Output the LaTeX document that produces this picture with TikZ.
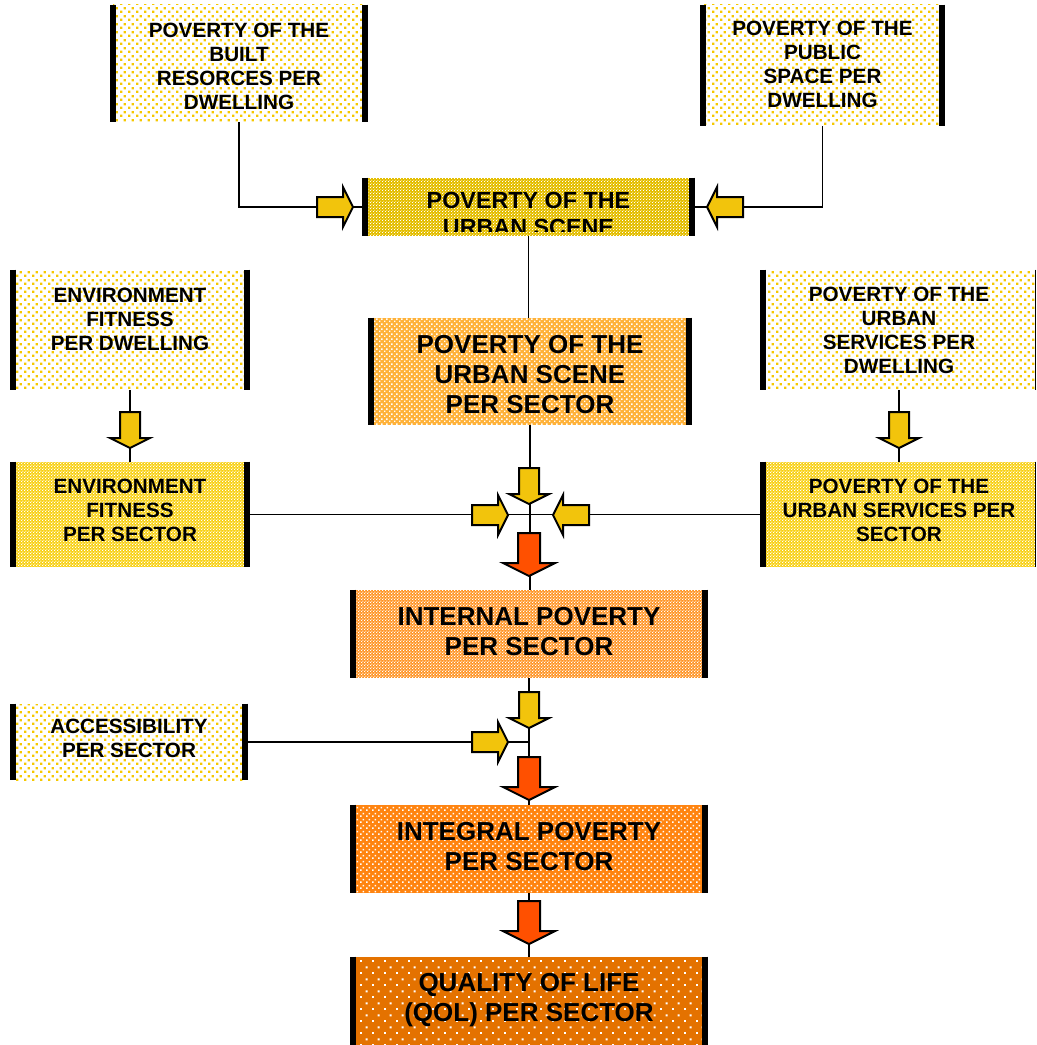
\documentclass[tikz,border=0pt]{standalone}
\usepackage{fontspec}
\setmainfont{Liberation Sans}
\usetikzlibrary{patterns}
\definecolor{dotyel}{HTML}{F6C800}
\definecolor{arryel}{HTML}{F2C40C}
\definecolor{arrred}{HTML}{FF5000}
\definecolor{scenefill}{HTML}{E4BE00}
\definecolor{sectfill}{HTML}{FFB23A}
\definecolor{envsect}{HTML}{F8D010}
\definecolor{intfill}{HTML}{FF9424}
\definecolor{integfill}{HTML}{FF8410}
\definecolor{qolfill}{HTML}{E47200}
\pgfdeclarepatternformonly[\dotsep,\dotsz]{sdots}{\pgfqpoint{0pt}{0pt}}{\pgfpoint{\dotsep}{\dotsep}}{\pgfpoint{\dotsep}{\dotsep}}{%
  \pgfpathrectangle{\pgfqpoint{0pt}{0pt}}{\pgfpoint{\dotsz}{\dotsz}}%
  \pgfpathrectangle{\pgfpoint{0.5*\dotsep}{0.5*\dotsep}}{\pgfpoint{\dotsz}{\dotsz}}%
  \pgfusepath{fill}}
\tikzset{
  dot sep/.store in=\dotsep, dot size/.store in=\dotsz, dot sep=6pt, dot size=1.5pt,
  box/.style n args={4}{inner sep=0pt, draw=none, preaction={fill=#1}, pattern=sdots,
     pattern color=#2, dot sep=#3, dot size=#4},
  lightbox/.style={box={white}{dotyel}{6pt}{1.9pt}},
  txt/.style={inner sep=0pt, align=center, text=black},
  smallfont/.style={txt, font=\fontsize{15.5}{18}\selectfont\bfseries},
  bigfont/.style={txt, font=\fontsize{19.5}{22.5}\selectfont\bfseries},
  bar/.style={line width=4.5pt, black},
  conn/.style={line width=1pt, black},
  yarr/.pic={\draw[line width=1.5pt, fill=arryel, line join=miter]
     (-36,-10) -- (-10,-10) -- (-10,-20) -- (0,0) -- (-10,20) -- (-10,10) -- (-36,10) -- cycle;},
  rarr/.pic={\draw[line width=1.5pt, fill=arrred, line join=miter]
     (-43,-11) -- (-13,-11) -- (-13,-26) -- (0,0) -- (-13,26) -- (-13,11) -- (-43,11) -- cycle;},
}
\begin{document}
\begin{tikzpicture}[x=0.75pt, y=-0.75pt]
\useasboundingbox (0,0) rectangle (1036,1045);

% boxes
\node[lightbox, minimum width=252*0.75pt, minimum height=117*0.75pt] (b1) at (239,63.5) {};
\node[lightbox, minimum width=239*0.75pt, minimum height=121*0.75pt] (b2) at (822.5,65.5) {};
\node[box={scenefill}{white}{2.4pt}{0.9pt}, minimum width=327*0.75pt, minimum height=58*0.75pt] (b3) at (528.5,207) {};
\node[lightbox, minimum width=234*0.75pt, minimum height=120*0.75pt] (b4) at (130,330) {};
\node[box={sectfill}{white}{3.8pt}{1.3pt}, minimum width=318*0.75pt, minimum height=107*0.75pt] (b5) at (530,371.5) {};
\node[lightbox, minimum width=272*0.75pt, minimum height=120*0.75pt] (b6) at (899,330) {};
\node[box={envsect}{white}{2.4pt}{1.1pt}, minimum width=234*0.75pt, minimum height=105*0.75pt] (b7) at (130,514.5) {};
\node[box={envsect}{white}{2.4pt}{1.1pt}, minimum width=272*0.75pt, minimum height=105*0.75pt] (b8) at (899,514.5) {};
\node[box={intfill}{white}{2.4pt}{1.1pt}, minimum width=352*0.75pt, minimum height=88*0.75pt] (b9) at (529,634) {};
\node[lightbox, minimum width=232*0.75pt, minimum height=76*0.75pt] (b10) at (129,742) {};
\node[box={integfill}{white}{4.5pt}{1.4pt}, minimum width=352*0.75pt, minimum height=88*0.75pt] (b11) at (529,849) {};
\node[box={qolfill}{white}{9pt}{1.6pt}, minimum width=352*0.75pt, minimum height=90*0.75pt] (b12) at (529,1002) {};

% texts
\node[smallfont] (t1) at (239,66.5) {POVERTY OF THE\\BUILT\\RESORCES PER\\DWELLING};
\node[smallfont] (t2) at (822.5,64.5) {POVERTY OF THE\\PUBLIC\\SPACE PER\\DWELLING};
\node[smallfont] (t4) at (130,319) {ENVIRONMENT\\FITNESS\\PER DWELLING};
\node[bigfont] (t5) at (530,375) {POVERTY OF THE\\URBAN SCENE\\PER SECTOR};
\node[smallfont] (t6) at (899,330) {POVERTY OF THE\\URBAN\\SERVICES PER\\DWELLING};
\node[smallfont] (t7) at (130,510.5) {ENVIRONMENT\\FITNESS\\PER SECTOR};
\node[smallfont] (t8) at (899,510.5) {POVERTY OF THE\\URBAN SERVICES PER\\SECTOR};
\node[bigfont] (t9) at (529,632) {INTERNAL POVERTY\\PER SECTOR};
\node[smallfont] (t10) at (129,738.5) {ACCESSIBILITY\\PER SECTOR};
\node[bigfont] (t11) at (529,846.5) {INTEGRAL POVERTY\\PER SECTOR};
\node[bigfont] (t12) at (529,1000.5) {QUALITY OF LIFE\\(QOL) PER SECTOR};

% clipped text of the urban scene box
\begin{scope}
  \clip (365,178) rectangle (692,231);
  \node[txt, font=\fontsize{17.5}{20.3}\selectfont\bfseries] (t3) at (528.5,214)
    {POVERTY OF THE\\URBAN SCENE};
\end{scope}

% side bars
\foreach \b in {b1,b2,b3,b4,b5,b7,b9,b10,b11,b12} {
  \draw[bar] (\b.north west) -- (\b.south west);
  \draw[bar] (\b.north east) -- (\b.south east);
}
\foreach \b in {b6,b8} {
  \draw[bar] (\b.north west) -- (\b.south west);
  \draw[conn] (\b.north east) -- (\b.south east);
}

% junctions
\coordinate (J1) at (b5.south |- b7.east);
\coordinate (J2) at (b9.south |- b10.east);

% connectors
\draw[conn] (b1.south) |- (b3.west);
\draw[conn] (b2.south) |- (b3.east);
\draw[conn] (b3.south) -- (b3.south |- b5.north);
\draw[conn] (b4.south) -- (b7.north);
\draw[conn] (b6.south) -- (b8.north);
\draw[conn] (b5.south) -- (J1);
\draw[conn] (b7.east) -- (J1);
\draw[conn] (b8.west) -- (J1);
\draw[conn] (J1) -- (J1 |- b9.north);
\draw[conn] (b9.south) -- (J2);
\draw[conn] (b10.east) -- (J2);
\draw[conn] (J2) -- (J2 |- b11.north);
\draw[conn] (b11.south) -- (b12.north);

% block arrows
\pic at (353,207) {yarr};
\pic[rotate=180] at (707,207) {yarr};
\pic[rotate=-90] at (529,504) {yarr};
\pic[rotate=-90] at (130,448) {yarr};
\pic[rotate=-90] at (899,448) {yarr};
\pic at (508,515) {yarr};
\pic[rotate=180] at (553,515) {yarr};
\pic[rotate=-90] at (529,576) {rarr};
\pic[rotate=-90] at (529,728) {yarr};
\pic at (508,742) {yarr};
\pic[rotate=-90] at (529,800) {rarr};
\pic[rotate=-90] at (529,944) {rarr};
\end{tikzpicture}
\end{document}
